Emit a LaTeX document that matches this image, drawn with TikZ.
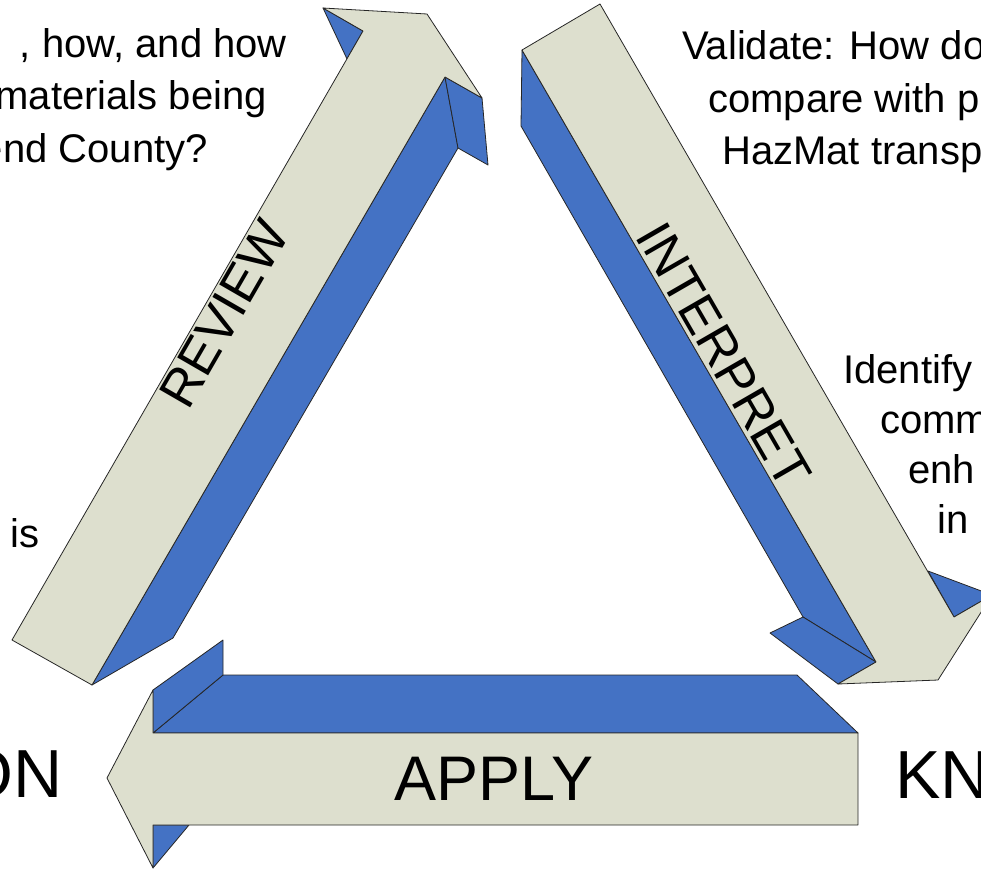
\documentclass[tikz,border=0pt]{standalone}
\usepackage{fontspec}
\setmainfont{Liberation Sans}
\definecolor{facecol}{RGB}{221,223,206}
\definecolor{sidecol}{RGB}{68,114,196}

\begin{document}
\begin{tikzpicture}[x=1pt,y=-1pt]
	\tikzset{lightface/.style={fill=facecol,draw=black!85,line width=0.8pt,line join=round},
		blueface/.style={fill=sidecol,draw=black!85,line width=0.8pt,line join=round},
		bigword/.style={font=\fontsize{63}{70}\selectfont,inner sep=0pt},
		slantword/.style={font=\fontsize{52}{60}\selectfont,inner sep=0pt},
		note/.style={font=\fontsize{40}{48}\selectfont,inner sep=0pt}}
	\useasboundingbox (0,0) rectangle (981,872);
	\clip (0,0) rectangle (981,872);

	\draw[blueface] (153,733) -- (223,675) -- (797,675) -- (858,733) -- cycle;
	\draw[blueface] (153,690) -- (223,640) -- (223,675) -- (153,733) -- cycle;
	\draw[blueface] (153,825) -- (189,825) -- (153,868) -- cycle;
	\draw[lightface] (107,778) -- (153,690) -- (153,733) -- (858,733) -- (858,825) -- (153,825) -- (153,868) -- cycle;

	\draw[blueface] (92,685) -- (445,77) -- (458,148) -- (173,638) -- cycle;
	\draw[blueface] (445,77) -- (482,98) -- (488,165) -- (458,148) -- cycle;
	\draw[blueface] (323,8) -- (363,31) -- (347,59) -- cycle;
	\draw[lightface] (12,640) -- (363,31) -- (323,8) -- (427,14) -- (482,98) -- (445,77) -- (92,685) -- cycle;

	\draw[blueface] (522,50) -- (876,662) -- (803,617) -- (521,126) -- cycle;
	\draw[blueface] (876,662) -- (838,684) -- (770,633) -- (803,617) -- cycle;
	\draw[blueface] (954,617) -- (992,595) -- (928,571) -- cycle;
	\draw[lightface] (600,4) -- (954,617) -- (992,595) -- (938,680) -- (838,684) -- (876,662) -- (522,50) -- cycle;

	\node[slantword,rotate=60] (review) at (224,314) {REVIEW};
	\node[slantword,rotate=-60] (interpret) at (724,355) {INTERPRET};
	\node[bigword,anchor=base] (apply) at (494,800) {APPLY};
	\node[bigword,font=\fontsize{68}{76}\selectfont,anchor=base east] (info) at (63,797) {ON};
	\node[bigword,font=\fontsize{68}{76}\selectfont,anchor=base west] (know) at (895,798) {KN};

	\node[note,anchor=base east] (qa) at (287,58) {, how, and how};
	\node[note,anchor=base east] (qb) at (267,110) {materials being};
	\node[note,anchor=base east] (qc) at (208,162) {end County?};
	\node[note,anchor=base west] (va) at (682,60) {Validate: How do};
	\node[note,anchor=base west] (vb) at (708,112) {compare with p};
	\node[note,anchor=base west] (vc) at (722,164) {HazMat transp};
	\node[note,anchor=base west] (ia) at (843,383) {Identify};
	\node[note,anchor=base west] (ib) at (880,433) {comm};
	\node[note,anchor=base west] (ic) at (908,483) {enh};
	\node[note,anchor=base west] (id) at (937,533) {in};
	\node[note,anchor=base west] (ra) at (10,547) {is};
\end{tikzpicture}
\end{document}
